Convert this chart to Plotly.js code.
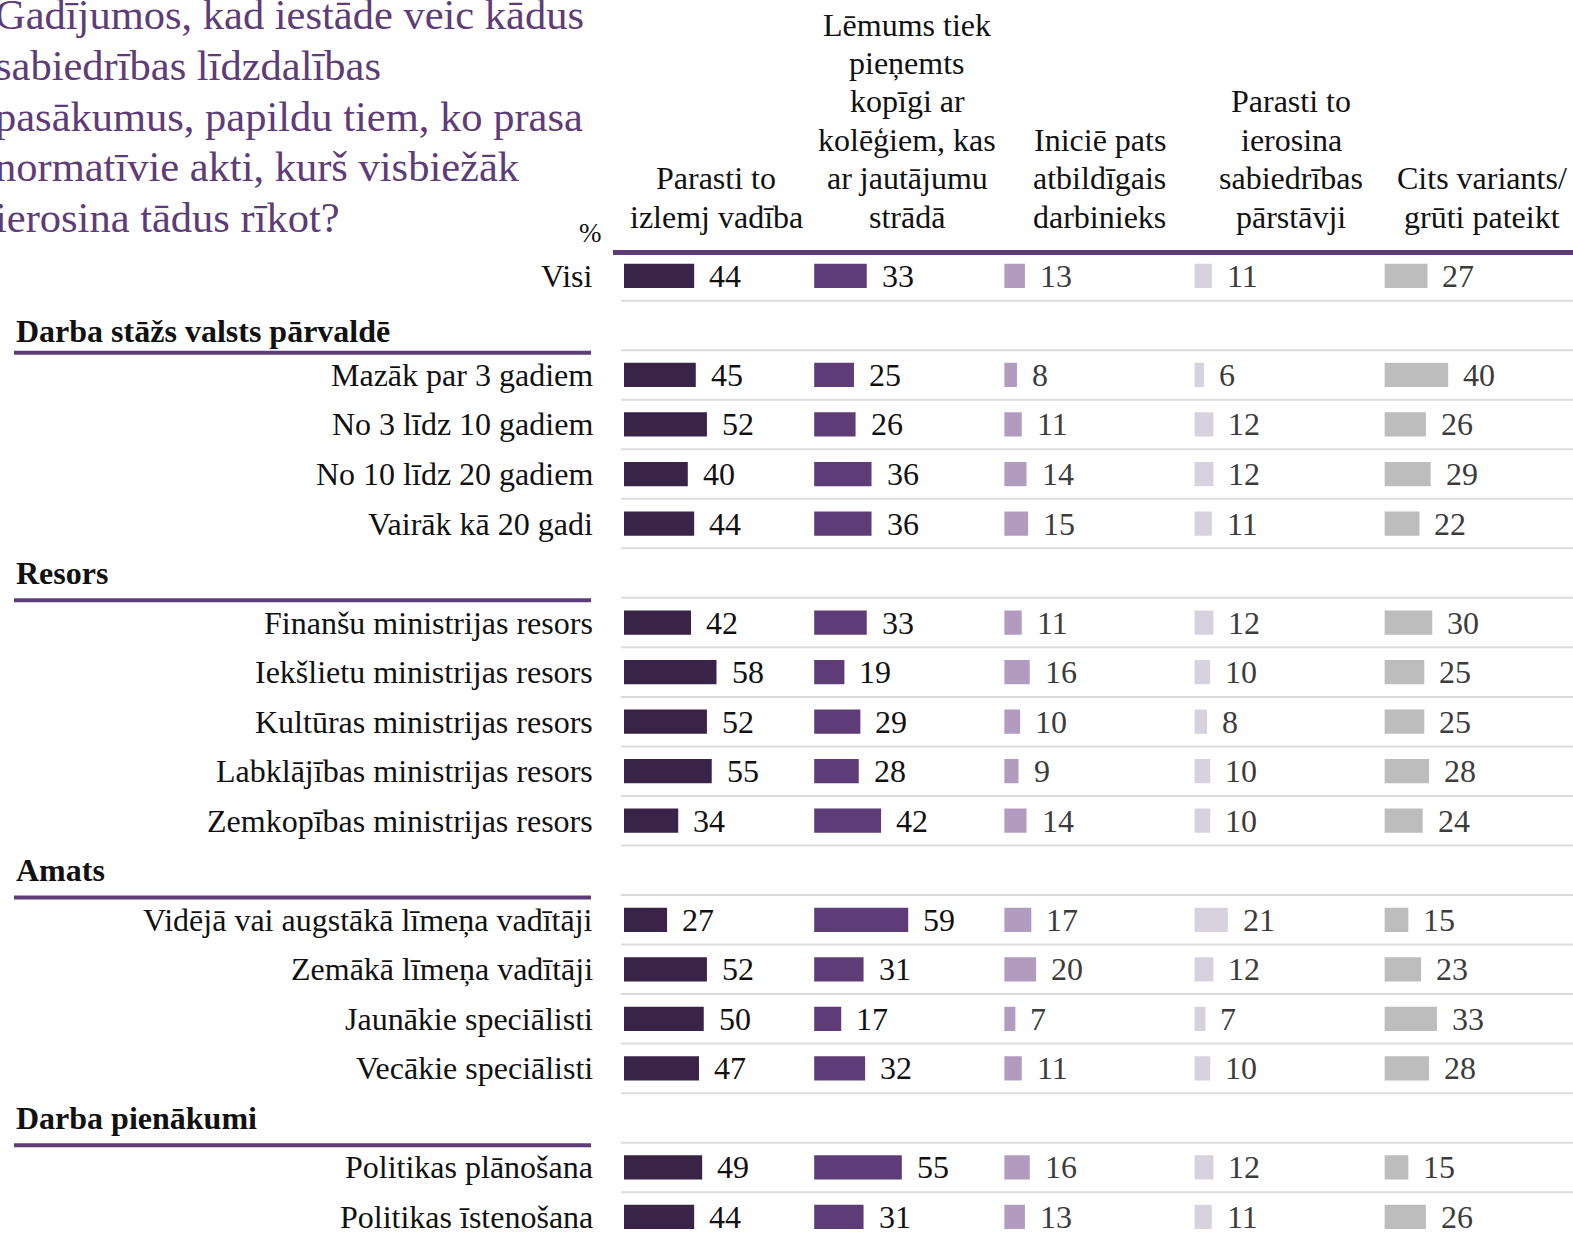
<!DOCTYPE html>
<html>
<head>
<meta charset="utf-8">
<script src="https://cdn.plot.ly/plotly-3.0.1.min.js"></script>
<style>html,body{margin:0;padding:0;background:#fff;}#chart{width:1573px;height:1240px;}</style>
</head>
<body>
<div id="chart"></div>
<script>
// ---------- DATA ----------
const titleLines = ["Gadījumos, kad iestāde veic kādus", "sabiedrības līdzdalības", "pasākumus, papildu tiem, ko prasa", "normatīvie akti, kurš visbiežāk", "ierosina tādus rīkot?"];
const unitLabel = "%";
const columnHeaders = [
  "Parasti to<br>izlemj vadība",
  "Lēmums tiek<br>pieņemts<br>kopīgi ar<br>kolēģiem, kas<br>ar jautājumu<br>strādā",
  "Iniciē pats<br>atbildīgais<br>darbinieks",
  "Parasti to<br>ierosina<br>sabiedrības<br>pārstāvji",
  "Cits variants/<br>grūti pateikt"
];
const totalLabel = "Visi";
const sectionNames = ["Darba stāžs valsts pārvaldē", "Resors", "Amats", "Darba pienākumi"];
const sectionRows = [
  ["Mazāk par 3 gadiem", "No 3 līdz 10 gadiem", "No 10 līdz 20 gadiem", "Vairāk kā 20 gadi"],
  ["Finanšu ministrijas resors", "Iekšlietu ministrijas resors", "Kultūras ministrijas resors", "Labklājības ministrijas resors", "Zemkopības ministrijas resors"],
  ["Vidējā vai augstākā līmeņa vadītāji", "Zemākā līmeņa vadītāji", "Jaunākie speciālisti", "Vecākie speciālisti"],
  ["Politikas plānošana", "Politikas īstenošana"]
];
// values in row order: Visi, then all section rows in order
const vadiba   = [44, 45, 52, 40, 44, 42, 58, 52, 55, 34, 27, 52, 50, 47, 49, 44];
const kopigi   = [33, 25, 26, 36, 36, 33, 19, 29, 28, 42, 59, 31, 17, 32, 55, 31];
const inicie   = [13,  8, 11, 14, 15, 11, 16, 10,  9, 14, 17, 20,  7, 11, 16, 13];
const sabiedr  = [11,  6, 12, 12, 11, 12, 10,  8, 10, 10, 21, 12,  7, 10, 12, 11];
const cits     = [27, 40, 26, 29, 22, 30, 25, 25, 28, 24, 15, 23, 33, 28, 15, 26];

// ---------- STYLE ----------
const W = 1573, H = 1240;
const FONT = "Liberation Serif, Times New Roman, serif";
const FS = 32;
const barColors = ["#392447", "#5e3c78", "#b19cc0", "#d8d1de", "#bdbdbd"];
const valueColors = ["#111111", "#111111", "#3c3c3c", "#3c3c3c", "#3c3c3c"];
const purple = "#5e3c78";
const series = [vadiba, kopigi, inicie, sabiedr, cits];

// Layout geometry (pixels)
const firstRowY = 275.9, rowPitch = 49.53;
const colStart = 624, colPitch = 190.1, pxPerUnit = 1.595;
const headerCenterPx = [716, 907, 1099.5, 1291, 1482];
const sectionLabelShift = [-6, 0, 0, 0];

// Build slot positions
const rowLabels = [totalLabel];
const rowSlots = [0];
const sectionSlots = [];
let slot = 1;
sectionNames.forEach((name, i) => {
  sectionSlots.push(slot); slot++;
  sectionRows[i].forEach(r => { rowLabels.push(r); rowSlots.push(slot); slot++; });
});
const lastSlot = slot - 1;

const traces = [];
const layout = {
  width: W, height: H,
  margin: {l: 0, r: 0, t: 0, b: 0},
  paper_bgcolor: "#fff", plot_bgcolor: "#fff",
  showlegend: false,
  font: {family: FONT, size: FS, color: "#111"},
  yaxis: {range: [(H - firstRowY) / rowPitch, -firstRowY / rowPitch], visible: false, fixedrange: true, anchor: "x"},
  annotations: [],
  shapes: []
};

series.forEach((vals, c) => {
  const ax = c === 0 ? "x" : "x" + (c + 1);
  const axKey = c === 0 ? "xaxis" : "xaxis" + (c + 1);
  const d0 = (colStart + c * colPitch) / W;
  const d1 = Math.min(1, (colStart + (c + 1) * colPitch) / W);
  layout[axKey] = {domain: [d0, d1], range: [0, (d1 - d0) * W / pxPerUnit], visible: false, anchor: "y", fixedrange: true};
  traces.push({
    type: "bar", orientation: "h", x: vals, y: rowSlots, xaxis: ax, yaxis: "y",
    width: 0.49, marker: {color: barColors[c], line: {width: 0}}, hoverinfo: "skip"
  });
  vals.forEach((v, i) => {
    layout.annotations.push({
      xref: ax, yref: "y", x: v, y: rowSlots[i], xanchor: "left", yanchor: "middle",
      xshift: 13, text: String(v), showarrow: false,
      font: {family: FONT, size: FS, color: valueColors[c]}
    });
  });
  // column header, line by line
  const lines = columnHeaders[c].split("<br>");
  lines.forEach((ln, k) => {
    const yc = 216.7 - (lines.length - 1 - k) * 38.4;
    layout.annotations.push({
      xref: "paper", yref: "paper", x: headerCenterPx[c] / W, y: 1 - yc / H, xanchor: "center", yanchor: "middle",
      text: ln, showarrow: false, font: {family: FONT, size: FS, color: "#111"}
    });
  });
});

// Row labels
rowLabels.forEach((lab, i) => {
  layout.annotations.push({
    xref: "paper", yref: "y", x: 595 / W, y: rowSlots[i], xanchor: "right", yanchor: "middle",
    text: lab, showarrow: false, font: {family: FONT, size: FS, color: "#111"}
  });
});
// Section labels + purple underline
sectionNames.forEach((name, i) => {
  layout.annotations.push({
    xref: "paper", yref: "y", x: 14 / W, y: sectionSlots[i], xanchor: "left", yanchor: "middle",
    yshift: sectionLabelShift[i],
    text: "<b>" + name + "</b>", showarrow: false, font: {family: FONT, size: FS, color: "#111"}
  });
  layout.shapes.push({type: "line", xref: "paper", yref: "y", x0: 14 / W, x1: 591 / W,
    y0: sectionSlots[i] + 0.55, y1: sectionSlots[i] + 0.55, line: {color: purple, width: 4}});
});
// Grey row separators
for (let b = 0; b <= lastSlot; b++) {
  layout.shapes.push({type: "line", xref: "paper", yref: "y", x0: 621 / W, x1: 1,
    y0: b + 0.5, y1: b + 0.5, line: {color: "#dcdcdc", width: 2}, layer: "below"});
}
// Top purple rule
layout.shapes.push({type: "line", xref: "paper", yref: "y", x0: 613 / W, x1: 1,
  y0: -0.47, y1: -0.47, line: {color: purple, width: 5}});

// Title
titleLines.forEach((t, i) => {
  layout.annotations.push({
    xref: "paper", yref: "paper", x: -7 / W, y: 1 - (15 + i * 50.66) / H, xanchor: "left", yanchor: "middle",
    text: t, showarrow: false, font: {family: FONT, size: 42.5, color: purple}
  });
});
layout.annotations.push({
  xref: "paper", yref: "paper", x: 590 / W, y: 1 - 233 / H, xanchor: "center", yanchor: "middle",
  text: unitLabel, showarrow: false, font: {family: FONT, size: 27, color: "#111"}
});

Plotly.newPlot("chart", traces, layout, {displayModeBar: false, staticPlot: true});
</script>
</body>
</html>
